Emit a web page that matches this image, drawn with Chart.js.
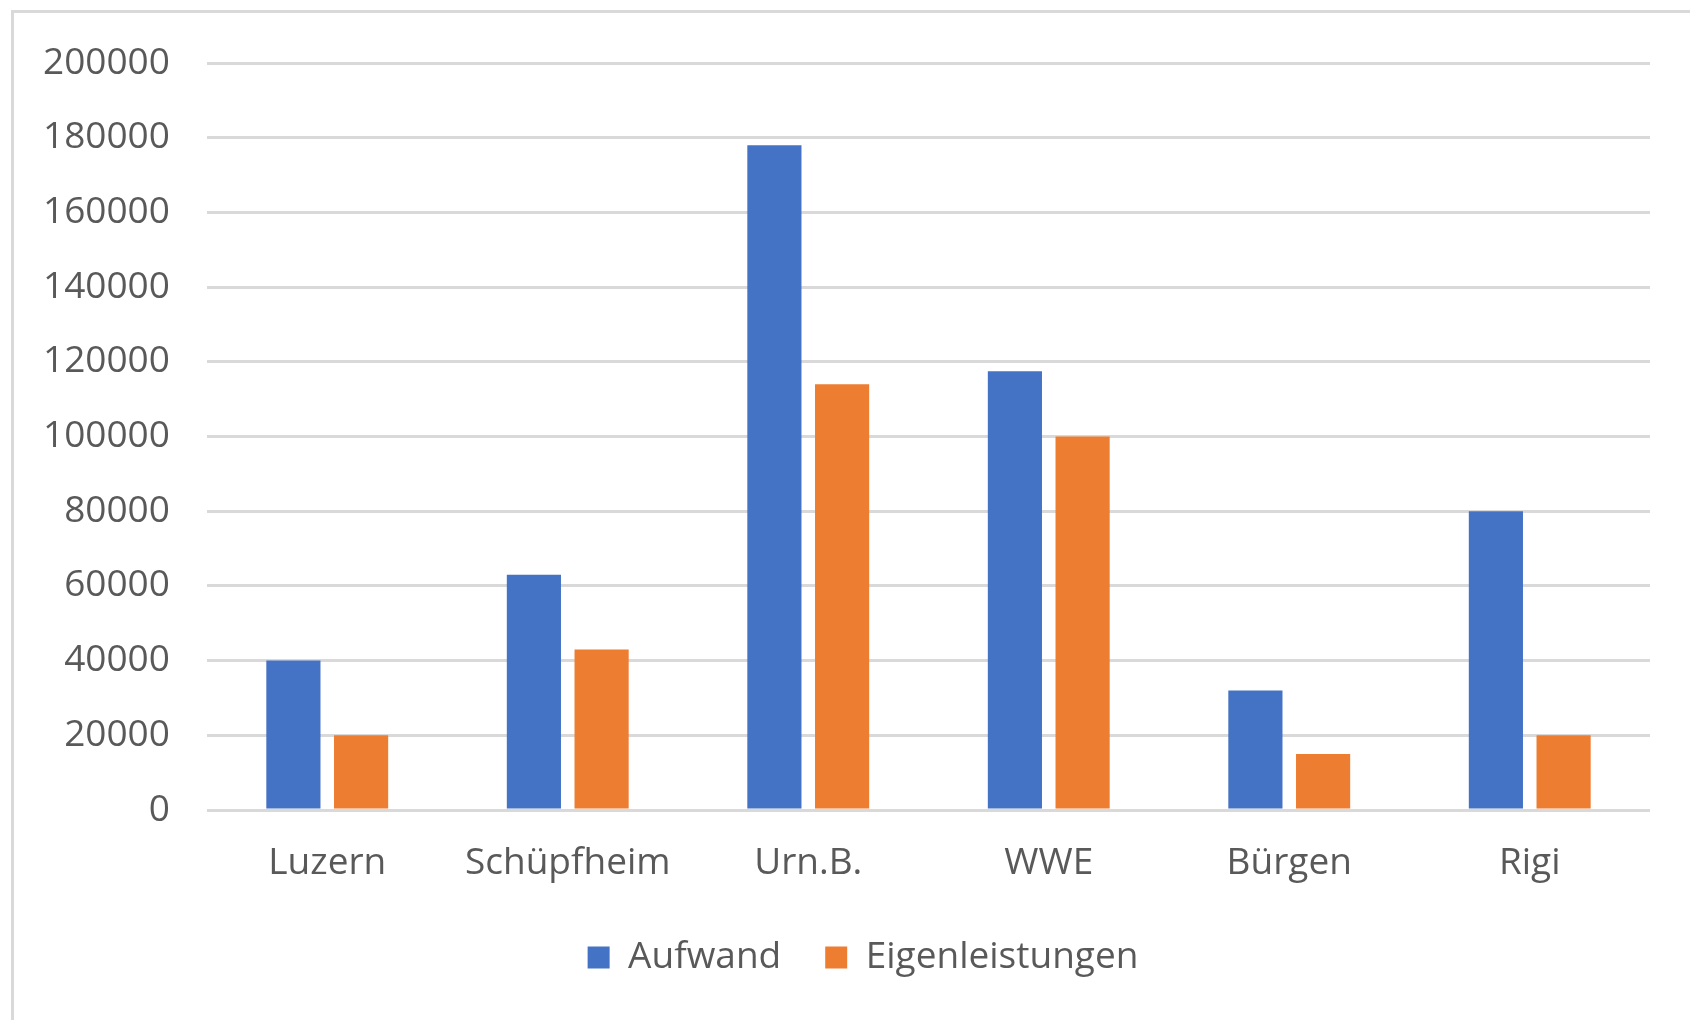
<!DOCTYPE html>
<html>
<head>
<meta charset="utf-8">
<script src="https://cdn.jsdelivr.net/npm/chart.js@4"></script>
<style>
  html, body { margin: 0; padding: 0; background: #fff; overflow: hidden; }
  #frame { position: absolute; left: 11px; top: 10px; width: 2000px; height: 2000px;
           border-left: 3px solid #d9d9d9; border-top: 3px solid #d9d9d9; }
  #barChart { position: absolute; left: 0; top: 0; }
</style>
</head>
<body>
<div id="frame"></div>
<canvas id="barChart" width="1690" height="1020"></canvas>
<script>
let orte = ['Luzern', 'Schüpfheim', 'Urn.B.', 'WWE', 'Bürgen', 'Rigi'];
let aufwand = [40000, 63000, 178000, 117500, 32000, 80000];
let eigenleistungen = [20000, 43000, 114000, 100000, 15000, 20000];
let yTicks = [0, 20000, 40000, 60000, 80000, 100000, 120000, 140000, 160000, 180000, 200000];

const textColor = '#595959';
const schrift = { family: "'Open Sans', sans-serif", size: 37 };

var ctx = document.getElementById('barChart').getContext('2d');
var barChart = new Chart(ctx, {
    type: 'bar',
    data: {
        labels: orte,
        datasets: [
            {
                label: 'Aufwand',
                data: aufwand,
                backgroundColor: '#4472C4'
            },
            {
                label: 'Eigenleistungen',
                data: eigenleistungen,
                backgroundColor: '#ED7D31'
            }
        ]
    },
    options: {
        responsive: false,
        animation: false,
        categoryPercentage: 0.563,
        barPercentage: 0.8,
        layout: {
            padding: { left: 76, right: 40, top: 63, bottom: 34 }
        },
        scales: {
            x: {
                grid: { display: false },
                border: { display: false },
                ticks: { color: textColor, font: schrift, padding: 23, maxRotation: 0 },
                afterFit: function(scale) { scale.height = 85; }
            },
            y: {
                min: yTicks[0],
                max: yTicks[yTicks.length - 1],
                afterBuildTicks: function(scale) {
                    scale.ticks = yTicks.map(v => ({ value: v }));
                },
                grid: { color: '#d9d9d9', lineWidth: 3, drawTicks: false },
                border: { display: false },
                // mirrored so the labels are not clipped by the narrow axis box
                ticks: {
                    color: textColor,
                    font: schrift,
                    mirror: true,
                    crossAlign: 'far',
                    padding: -164,
                    callback: function(v) { return String(v); }
                },
                afterFit: function(scale) { scale.width = 131; }
            }
        },
        plugins: {
            legend: {
                position: 'bottom',
                labels: {
                    color: textColor,
                    font: schrift,
                    boxWidth: 22,
                    boxHeight: 22,
                    padding: 44
                }
            },
            tooltip: { enabled: false }
        }
    }
});
</script>
</body>
</html>
